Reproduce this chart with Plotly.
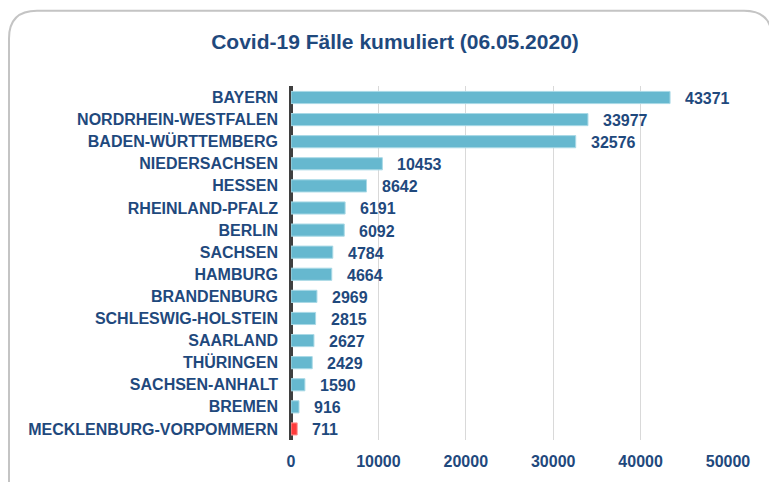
import plotly.graph_objects as go

states = ["BAYERN", "NORDRHEIN-WESTFALEN", "BADEN-WÜRTTEMBERG", "NIEDERSACHSEN", "HESSEN",
          "RHEINLAND-PFALZ", "BERLIN", "SACHSEN", "HAMBURG", "BRANDENBURG",
          "SCHLESWIG-HOLSTEIN", "SAARLAND", "THÜRINGEN", "SACHSEN-ANHALT", "BREMEN",
          "MECKLENBURG-VORPOMMERN"]
cases = [43371, 33977, 32576, 10453, 8642, 6191, 6092, 4784, 4664, 2969, 2815, 2627, 2429, 1590, 916, 711]
highlight = "MECKLENBURG-VORPOMMERN"
x_ticks = [0, 10000, 20000, 30000, 40000, 50000]

W, H = 769, 482
ML, MR, MT, MB = 291, 41, 86, 38
TXT = "#1F497D"
FONT = "Liberation Sans, Arial, sans-serif"

colors = ["#FF3B3B" if s == highlight else "#66B8CF" for s in states]
lines = ["#FF9A9A" if s == highlight else "#A9D9E6" for s in states]

fig = go.Figure(go.Bar(
    x=cases, y=states, orientation="h",
    marker=dict(color=colors, line=dict(color=lines, width=1)),
    width=0.55,
    hoverinfo="x+y",
))

for s, v in zip(states, cases):
    fig.add_annotation(x=v, y=s, text=f"<b>{v}</b>", showarrow=False,
                       xanchor="left", xshift=13, yshift=-1,
                       font=dict(family=FONT, size=16, color=TXT))

# rounded frame (pixel -> paper)
pw, ph = W - ML - MR, H - MT - MB
def px(x): return (x - ML) / pw
def py(y): return (H - MB - y) / ph
r = 28
x0, y0, x1, y1 = 9, 10, 772, 490
path = (f"M {px(x0)},{py(y1)} L {px(x0)},{py(y0 + r)} "
        f"Q {px(x0)},{py(y0)} {px(x0 + r)},{py(y0)} "
        f"L {px(x1 - r)},{py(y0)} Q {px(x1)},{py(y0)} {px(x1)},{py(y0 + r)} "
        f"L {px(x1)},{py(y1)}")
fig.add_shape(type="path", xref="paper", yref="paper", path=path,
              line=dict(color="#C4C4C4", width=2), layer="below")

fig.update_layout(
    width=W, height=H,
    margin=dict(l=ML, r=MR, t=MT, b=MB),
    paper_bgcolor="white", plot_bgcolor="white",
    title=dict(text="<b>Covid-19 Fälle kumuliert (06.05.2020)</b>", x=(395) / W, xanchor="center",
               y=1 - 42 / H, yanchor="middle",
               font=dict(family=FONT, size=21, color=TXT)),
    showlegend=False,
    bargap=0.45,
)
fig.update_xaxes(range=[0, 50000], tickvals=x_ticks, ticktext=[f"<b>{t}</b>" for t in x_ticks],
                 showgrid=True, gridcolor="#D9D9D9", gridwidth=1,
                 zeroline=True, zerolinecolor="#3F3F3F", zerolinewidth=4,
                 showline=False, ticks="", ticklabelstandoff=10,
                 tickfont=dict(family=FONT, size=16, color=TXT), fixedrange=True)
fig.update_yaxes(autorange="reversed", showgrid=False, ticks="", showline=False,
                 tickfont=dict(family=FONT, size=16, color=TXT), ticklabelstandoff=12,
                 ticktext=[f"<b>{s}</b>" for s in states], tickvals=states)

fig.write_html("out.html")
